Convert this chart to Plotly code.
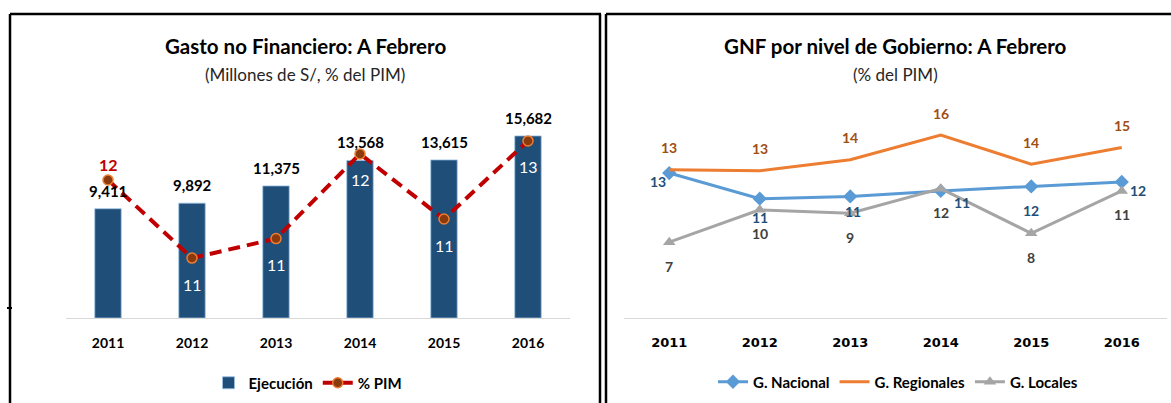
import plotly.graph_objects as go

# ---------------- data ----------------
years = ["2011", "2012", "2013", "2014", "2015", "2016"]
ejecucion = [9411, 9892, 11375, 13568, 13615, 15682]          # millones de S/
pct_pim = [12.0, 10.8, 11.1, 12.4, 11.4, 12.6]                 # % del PIM
g_nacional = [13.0, 10.7, 10.9, 11.4, 11.8, 12.2]
g_regionales = [13.3, 13.2, 14.2, 16.4, 13.8, 15.3]
g_locales = [6.8, 9.7, 9.4, 11.6, 7.6, 11.4]

# ---------------- layout helpers ----------------
W, H = 1171, 403
def px(p):
    return p / W
def py(p):
    return 1 - p / H

FONT = "Lato, 'Open Sans', sans-serif"
BLUE_BAR = "#1F4E79"
RED = "#C00000"
BLUE = "#5B9BD5"
ORANGE = "#ED7D31"
GRAY = "#A5A5A5"

fig = go.Figure()

# ---------- left panel ----------
fig.add_trace(go.Bar(
    x=years, y=ejecucion, name="Ejecución",
    marker=dict(color=BLUE_BAR, line=dict(color="#9DC3E6", width=0.8)),
    width=0.315, xaxis="x", yaxis="y", legend="legend",
))
fig.add_trace(go.Scatter(
    x=years, y=pct_pim, name="% PIM", mode="lines+markers",
    line=dict(color=RED, width=4, dash="12px,7px"),
    marker=dict(symbol="circle", size=10, color="#8B3A0E",
                line=dict(color=ORANGE, width=1.5)),
    xaxis="x", yaxis="y2", legend="legend",
))

# ---------- right panel ----------
fig.add_trace(go.Scatter(
    x=years, y=g_nacional, name="G. Nacional", mode="lines+markers",
    line=dict(color=BLUE, width=3),
    marker=dict(symbol="diamond", size=11, color=BLUE),
    xaxis="x2", yaxis="y3", legend="legend2",
))
fig.add_trace(go.Scatter(
    x=years, y=g_regionales, name="G. Regionales", mode="lines",
    line=dict(color=ORANGE, width=3),
    xaxis="x2", yaxis="y3", legend="legend2",
))
fig.add_trace(go.Scatter(
    x=years, y=g_locales, name="G. Locales", mode="lines+markers",
    line=dict(color=GRAY, width=3),
    marker=dict(symbol="triangle-up", size=11, color=GRAY),
    xaxis="x2", yaxis="y3", legend="legend2",
))

annotations = []

# titles
for cx, title, sub in [(305, "Gasto no Financiero: A Febrero", "(Millones de S/, % del PIM)"),
                       (896, "GNF por nivel de Gobierno: A Febrero", "(% del PIM)")]:
    annotations.append(dict(x=px(cx), y=py(46), xref="paper", yref="paper",
                            text=title, showarrow=False, xanchor="center", yanchor="middle",
                            font=dict(family=FONT, size=20.5, color="black", weight="bold")))
    annotations.append(dict(x=px(cx), y=py(75), xref="paper", yref="paper",
                            text=sub, showarrow=False, xanchor="center", yanchor="middle",
                            font=dict(family=FONT, size=17, color="#262626")))

# bar value labels (x given as category index)
for i, v in enumerate(ejecucion):
    annotations.append(dict(x=i, y=v, xref="x", yref="y", text=f"{v:,}",
                            showarrow=False, yshift=18, yanchor="middle",
                            font=dict(family=FONT, size=15, color="black", weight="bold")))

# % PIM labels
for i, v in enumerate(pct_pim):
    if i == 0:
        annotations.append(dict(x=i, y=v, xref="x", yref="y2", text=f"{v:.0f}",
                                showarrow=False, yshift=15, yanchor="middle",
                                font=dict(family=FONT, size=16, color=RED, weight="bold")))
    else:
        annotations.append(dict(x=i, y=v, xref="x", yref="y2", text=f"{v:.0f}",
                                showarrow=False, yshift=-26, yanchor="middle",
                                font=dict(family=FONT, size=16, color="white")))

# right panel labels (per-point label offsets in px)
nac_dx = [-11, 0, 3, 21, 0, 16]
nac_dy = [-8, -19, -15, -12, -24, -9]
for i, v in enumerate(g_nacional):
    annotations.append(dict(x=i, y=v, xref="x2", yref="y3", text=f"{v:.0f}",
                            showarrow=False, xshift=nac_dx[i], yshift=nac_dy[i], yanchor="middle",
                            font=dict(family=FONT, size=14, color="#1F4E79", weight="bold")))
for i, v in enumerate(g_regionales):
    annotations.append(dict(x=i, y=v, xref="x2", yref="y3", text=f"{v:.0f}",
                            showarrow=False, yshift=22, yanchor="middle",
                            font=dict(family=FONT, size=14, color="#A04D12", weight="bold")))
for i, v in enumerate(g_locales):
    annotations.append(dict(x=i, y=v, xref="x2", yref="y3", text=f"{v:.0f}",
                            showarrow=False, yshift=-24, yanchor="middle",
                            font=dict(family=FONT, size=14, color="#404040", weight="bold")))

# panel borders
border = dict(color="black", width=2.5)
shapes = [
    dict(type="line", xref="paper", yref="paper", x0=px(10), x1=px(601), y0=py(14), y1=py(14), line=border),
    dict(type="line", xref="paper", yref="paper", x0=px(10), x1=px(10), y0=py(14), y1=py(410), line=border),
    dict(type="line", xref="paper", yref="paper", x0=px(600), x1=px(600), y0=py(14), y1=py(410), line=border),
    dict(type="line", xref="paper", yref="paper", x0=px(606), x1=px(1175), y0=py(14), y1=py(14), line=border),
    dict(type="line", xref="paper", yref="paper", x0=px(606), x1=px(606), y0=py(14), y1=py(410), line=border),
    dict(type="line", xref="paper", yref="paper", x0=px(7), x1=px(12), y0=py(308), y1=py(308),
         line=dict(color="black", width=2)),
]

tickfont_left = dict(family=FONT, size=14, color="black", weight="bold")
tickfont_right = dict(family="DejaVu Sans", size=13, color="black", weight="bold")
legend_font = dict(family=FONT, size=15, color="black", weight="bold")

fig.update_layout(
    width=W, height=H,
    margin=dict(l=0, r=0, t=0, b=0),
    paper_bgcolor="white", plot_bgcolor="white",
    xaxis=dict(domain=[px(66), px(570)], type="category", anchor="y", range=[-0.5, 5.5],
               showline=True, linecolor="#D9D9D9", linewidth=1, ticks="",
               showgrid=False, tickfont=tickfont_left, ticklabelstandoff=12),
    yaxis=dict(domain=[py(318), py(109)], range=[0, 18000], visible=False),
    yaxis2=dict(overlaying="y", range=[9.88, 13.09], visible=False),
    xaxis2=dict(domain=[px(624), px(1167)], type="category", anchor="y3", range=[-0.5, 5.5],
                showline=True, linecolor="#D9D9D9", linewidth=1, ticks="",
                showgrid=False, tickfont=tickfont_right, ticklabelstandoff=12),
    yaxis3=dict(domain=[py(318), py(117.3)], range=[0, 18], visible=False, anchor="x2"),
    legend=dict(orientation="h", x=px(308), xanchor="center", y=py(383), yanchor="middle",
                font=legend_font, bgcolor="rgba(0,0,0,0)", itemwidth=30),
    legend2=dict(orientation="h", x=px(898), xanchor="center", y=py(382), yanchor="middle",
                 font=legend_font, bgcolor="rgba(0,0,0,0)", itemwidth=30),
    annotations=annotations,
    shapes=shapes,
)

fig.write_html("out.html", config={"displayModeBar": False},
               post_script="document.body.style.margin='0px';")
